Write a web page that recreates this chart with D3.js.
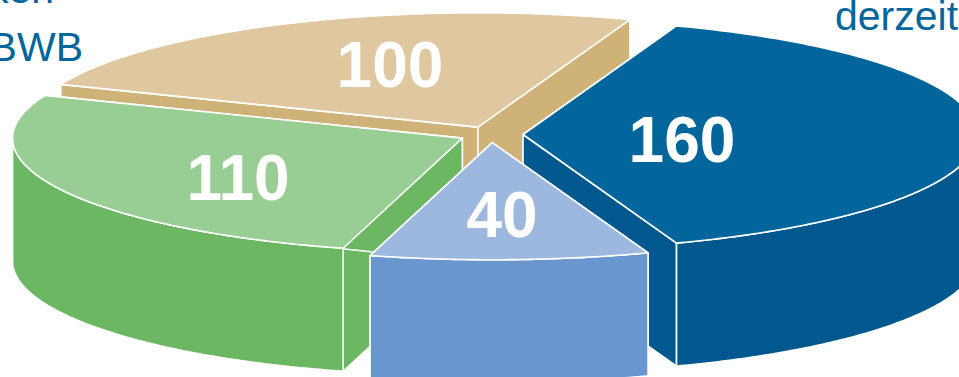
<!DOCTYPE html>
<html lang="de">
<head>
<meta charset="utf-8">
<title>Kreisdiagramm</title>
<script src="https://cdn.jsdelivr.net/npm/d3@7/dist/d3.min.js"></script>
<style>
  html, body { margin: 0; padding: 0; background: #fff; overflow: hidden; }
  svg { display: block; font-family: "Liberation Sans", Arial, sans-serif; }
</style>
</head>
<body>
<script>
// Slice values, clockwise starting with the slice that faces right
const sliceValues = [160, 40, 110, 100];
const topColors  = ["#02659c", "#9cb8df", "#98ce93", "#dfc79f"];
const sideColors = ["#00588e", "#6996cf", "#6bb762", "#cfb278"];
// Back-to-front painting order of the slices
const paintOrder = [3, 0, 2, 1];
// Front slices read slightly larger than back slices
const perspectiveScale = [1.005, 1.02, 0.995, 0.995];
// Value label centres on the page, per slice
const labelCentresX = [682, 502, 238, 390];
const labelBaselines = [162, 237, 200, 87];
// Fragments of the surrounding captions
const captions = [
  { text: "ken", x: 54, y: 3, anchor: "end" },
  { text: "BWB", x: 83, y: 61, anchor: "end" },
  { text: "derzeit", x: 835, y: 30, anchor: "start" }
];

const width = 959, height = 377;
const cx = 491, cy = 134.5;      // pie centre before the slices are pulled apart
const radius = 452, tilt = 0.254; // disc radius and vertical squash of the ellipse
const depth = 123;               // height of the cylinder wall
const explode = 32;              // how far each slice is pulled out of the centre

const svg = d3.select("body").append("svg")
  .attr("width", width).attr("height", height)
  .attr("viewBox", `0 0 ${width} ${height}`);

const total = d3.sum(sliceValues);
const firstAngle = Math.PI / 2 - (sliceValues[0] / total) * Math.PI;
const arcs = d3.pie().sort(null).startAngle(firstAngle).endAngle(firstAngle + 2 * Math.PI)(sliceValues);

// Disc coordinates to page coordinates, d3.pie angle 0 being 12 o'clock
const xProj = d3.scaleLinear().domain([-1, 1]).range([-radius, radius]);
const yProj = d3.scaleLinear().domain([-1, 1]).range([-radius * tilt, radius * tilt]);
const line = d3.line();

function edgePoint(a, o, dz = 0) {
  return [o.x + o.k * xProj(Math.sin(a)), o.y - o.k * yProj(Math.cos(a)) + dz];
}

function polygonPath(points) { return line(points) + "Z"; }

function sampleAngles(a0, a1) {
  const n = Math.max(2, Math.ceil((a1 - a0) * 90));
  return d3.range(n + 1).map(i => a0 + (a1 - a0) * i / n);
}

paintOrder.forEach(i => {
  const d = arcs[i];
  const mid = (d.startAngle + d.endAngle) / 2;
  const o = {
    x: cx + explode * Math.sin(mid),
    y: cy - explode * tilt * Math.cos(mid),
    k: perspectiveScale[i]
  };
  const apex = [o.x, o.y];
  const apexLow = [o.x, o.y + depth];
  const g = svg.append("g");
  const faceStyle = s => s
    .attr("stroke", "#fff").attr("stroke-width", 1.6).attr("stroke-linejoin", "round");

  // Cut faces running from the apex to each end of the rim
  [d.startAngle, d.endAngle].forEach(a => {
    g.append("path")
      .attr("d", polygonPath([apex, edgePoint(a, o), edgePoint(a, o, depth), apexLow]))
      .attr("fill", sideColors[i]).call(faceStyle);
  });

  // Outer wall: only the part of the rim that faces the viewer (pie angles 90°..270°)
  const wallStart = Math.max(d.startAngle, Math.PI / 2);
  const wallEnd = Math.min(d.endAngle, 3 * Math.PI / 2);
  if (wallEnd > wallStart) {
    const angles = sampleAngles(wallStart, wallEnd);
    const upper = angles.map(a => edgePoint(a, o));
    const lower = angles.slice().reverse().map(a => edgePoint(a, o, depth));
    g.append("path")
      .attr("d", polygonPath(upper.concat(lower)))
      .attr("fill", sideColors[i]).call(faceStyle);
  }

  // Top face
  const rim = sampleAngles(d.startAngle, d.endAngle).map(a => edgePoint(a, o));
  g.append("path")
    .attr("d", polygonPath([apex].concat(rim)))
    .attr("fill", topColors[i]).call(faceStyle);
});

// Value labels
svg.append("g").selectAll("text").data(sliceValues).join("text")
  .attr("x", (d, i) => labelCentresX[i])
  .attr("y", (d, i) => labelBaselines[i])
  .attr("text-anchor", "middle")
  .attr("font-size", 64).attr("font-weight", 700).attr("fill", "#fff")
  .text(d => d);

// Caption fragments at the page edges
svg.append("g").selectAll("text").data(captions).join("text")
  .attr("x", d => d.x).attr("y", d => d.y)
  .attr("text-anchor", d => d.anchor)
  .attr("font-size", 41).attr("fill", "#02659c")
  .text(d => d.text);
</script>
</body>
</html>
